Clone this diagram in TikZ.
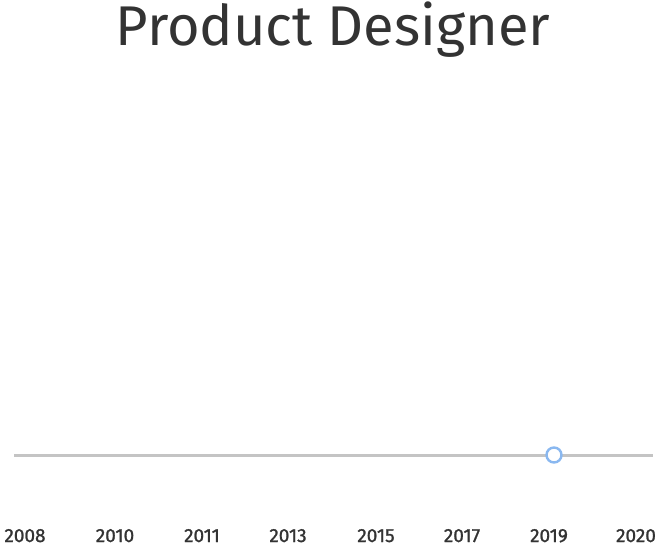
\documentclass[tikz,border=0pt]{standalone}
\usepackage{fontspec}
\setmainfont{Fira Sans}
\newfontfamily\yearfont[FakeBold=1.2]{Fira Sans}
\usetikzlibrary{positioning}
\definecolor{textgray}{HTML}{333333}
\definecolor{axisgray}{HTML}{C4C4C4}
\definecolor{dotblue}{HTML}{8AB8F0}
\tikzset{
  year/.style={anchor=base, text=textgray, font=\yearfont\fontsize{19}{21}\selectfont, inner sep=0pt},
  marker/.style={circle, draw=dotblue, line width=2.4pt, fill=white, minimum size=15pt, inner sep=0pt}
}
\begin{document}
\begin{tikzpicture}[x=1pt, y=-1pt]
\useasboundingbox (0,0) rectangle (659,549);

% --- titolo
\node[anchor=base, text=textgray, font=\fontsize{56}{60}\selectfont, inner sep=0pt] (title) at (333,45) {Product Designer};

% --- asse temporale
\coordinate (start) at (14,455);
\coordinate (end) at (653,455);
\draw[axisgray, line width=3pt] (start) -- (end);

% --- punto sul 2019
\node[marker] (dot) at (554,455) {};

% --- anni
\node[year] (y2008) at (25,542) {2008};
\node[year] (y2010) at (115,542) {2010};
\node[year] (y2011) at (202,542) {2011};
\node[year] (y2013) at (288,542) {2013};
\node[year] (y2015) at (376,542) {2015};
\node[year] (y2017) at (462,542) {2017};
\node[year] (y2019) at (549,542) {2019};
\node[year] (y2020) at (636,542) {2020};
\end{tikzpicture}
\end{document}
